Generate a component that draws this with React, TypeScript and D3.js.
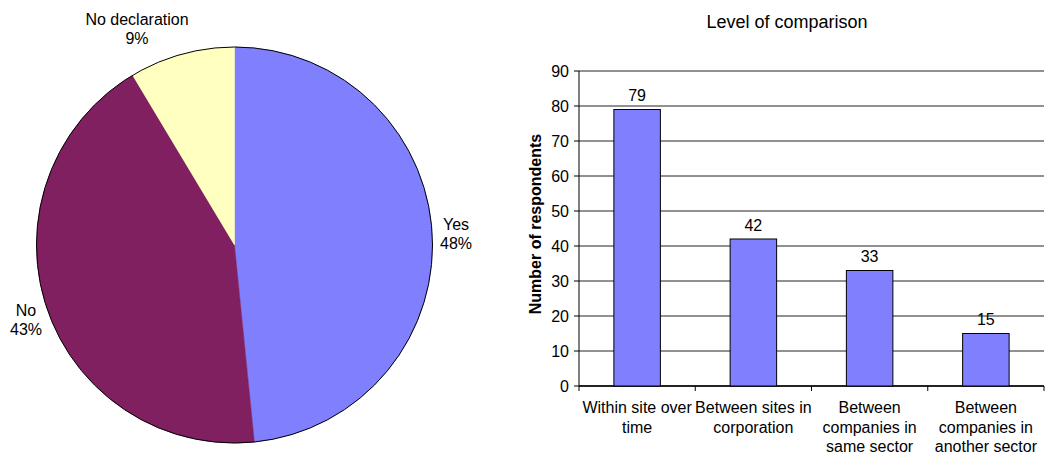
import React from "react";
import * as d3 from "d3";

const pieLabels = ["Yes", "No", "No declaration"];
const pieValues = [48.4, 43.0, 8.6];
const pieColors = ["#8080FF", "#802060", "#FFFFC0"];

const barCategories = [
  ["Within site over", "time"],
  ["Between sites in", "corporation"],
  ["Between", "companies in", "same sector"],
  ["Between", "companies in", "another sector"],
];
const barValues = [79, 42, 33, 15];
const yTicks = [0, 10, 20, 30, 40, 50, 60, 70, 80, 90];

const FONT = "Arial, 'Liberation Sans', sans-serif";

export default function App() {
  const cx = 234.5, cy = 245, r = 198;
  const pie = d3.pie<number>().sort(null).value((d) => d)(pieValues);
  const arc = d3.arc<d3.PieArcDatum<number>>().innerRadius(0).outerRadius(r);
  const labelPos = [
    { x: 456, y: 230 },
    { x: 26, y: 316 },
    { x: 137, y: 25 },
  ];

  const left = 579, right = 1044, top = 71, bottom = 386;
  const x = d3.scaleBand<number>().domain(d3.range(barValues.length)).range([left, right]).paddingInner(0).paddingOuter(0);
  const y = d3.scaleLinear().domain([0, 90]).range([bottom, top]);
  const bw = x.bandwidth() * 0.4;

  return (
    <svg width={1045} height={455} style={{ position: "absolute", left: 0, top: 0, fontFamily: FONT }}>
      <rect width={1045} height={455} fill="#fff" />
      <g transform={`translate(${cx},${cy})`}>
        {pie.map((p, i) => (
          <path key={i} d={arc(p) || ""} fill={pieColors[i]} stroke={pieColors[i]} strokeWidth={0.5} />
        ))}
        <circle r={r} fill="none" stroke="#000" strokeWidth={1} />
      </g>
      {pie.map((p, i) => (
        <text key={i} x={labelPos[i].x} y={labelPos[i].y} textAnchor="middle" fontSize={16} fill="#000">
          <tspan x={labelPos[i].x}>{pieLabels[i]}</tspan>
          <tspan x={labelPos[i].x} dy={19}>{Math.round(pieValues[i])}%</tspan>
        </text>
      ))}

      <text x={787} y={28} textAnchor="middle" fontSize={18}>Level of comparison</text>
      {yTicks.map((t) => (
        <g key={t}>
          <line x1={left} x2={right} y1={y(t)} y2={y(t)} stroke="#222" strokeWidth={1} />
          <line x1={left - 5} x2={left} y1={y(t)} y2={y(t)} stroke="#000" />
          <text x={569} y={y(t) + 6} textAnchor="end" fontSize={16}>{t}</text>
        </g>
      ))}
      <line x1={left} x2={left} y1={top} y2={bottom} stroke="#000" />
      <line x1={left} x2={right} y1={bottom} y2={bottom} stroke="#000" strokeWidth={1.5} />
      {d3.range(barValues.length + 1).map((i) => {
        const xx = left + i * x.step();
        return <line key={i} x1={xx} x2={xx} y1={bottom} y2={bottom + 5} stroke="#000" />;
      })}
      {barValues.map((v, i) => {
        const bx = (x(i) as number) + x.bandwidth() / 2 - bw / 2;
        return (
          <g key={i}>
            <rect x={bx} y={y(v)} width={bw} height={bottom - y(v)} fill="#8080FF" stroke="#000" strokeWidth={1} />
            <text x={bx + bw / 2} y={y(v) - 8.5} textAnchor="middle" fontSize={16}>{v}</text>
          </g>
        );
      })}
      {barCategories.map((lines, i) => {
        const cxb = (x(i) as number) + x.bandwidth() / 2;
        return (
          <text key={i} x={cxb} y={413} textAnchor="middle" fontSize={16}>
            {lines.map((l, j) => (
              <tspan key={j} x={cxb} dy={j === 0 ? 0 : 19.5}>{l}</tspan>
            ))}
          </text>
        );
      })}
      <text transform={`translate(541,224) rotate(-90)`} textAnchor="middle" fontSize={16} fontWeight="bold">Number of respondents</text>
    </svg>
  );
}
